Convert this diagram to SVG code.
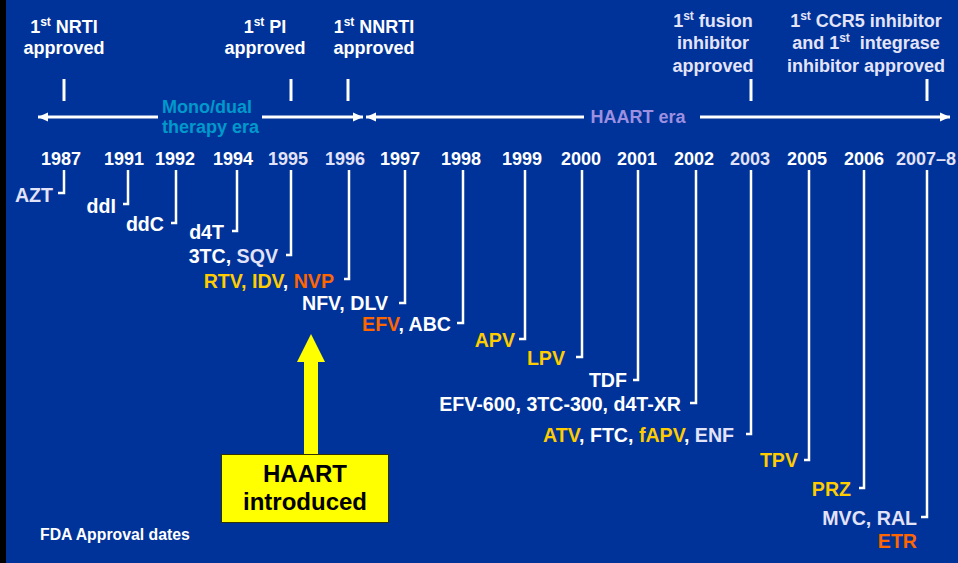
<svg xmlns="http://www.w3.org/2000/svg" width="958" height="563" viewBox="0 0 958 563">
  <defs>
    <style>
      text { font-family: "Liberation Sans", Arial, sans-serif; font-weight: bold; }
      .head { font-size: 18px; fill: #ffffff; text-anchor: middle; }
      .headl { font-size: 18px; fill: #e4e4f8; text-anchor: middle; }
      .sup { font-size: 12px; }
      .year { font-size: 18px; fill: #ffffff; text-anchor: middle; }
      .yearl { font-size: 18px; fill: #e2e2f8; text-anchor: middle; }
      .drug { font-size: 19.6px; fill: #ffffff; text-anchor: end; }
      .y { fill: #ffcc00; }
      .o { fill: #ff6600; }
      .l { fill: #e2e2f8; }
      .tick { stroke: #ffffff; stroke-width: 3; fill: none; }
      .hook { stroke: #ffffff; stroke-width: 2.5; fill: none; }
      .era { stroke: #ffffff; stroke-width: 3; fill: none; }
    </style>
    <marker id="head" viewBox="0 0 10 10" refX="10" refY="5" markerWidth="10" markerHeight="10" markerUnits="userSpaceOnUse" orient="auto-start-reverse">
      <path d="M0,0.5 L10,5 L0,9.5 z" fill="#ffffff"/>
    </marker>
  </defs>

  <!-- slide background -->
  <rect x="0" y="0" width="958" height="563" fill="#003399"/>
  <rect x="0" y="0" width="6" height="563" fill="#000000"/>

  <!-- milestone captions -->
  <g id="milestone-nrti">
    <text class="head" x="64" y="33">1<tspan class="sup" dy="-7">st</tspan><tspan dy="7"> NRTI</tspan></text>
    <text class="head" x="64" y="54">approved</text>
  </g>
  <g id="milestone-pi">
    <text class="head" x="265" y="33">1<tspan class="sup" dy="-7">st</tspan><tspan dy="7"> PI</tspan></text>
    <text class="head" x="265" y="54">approved</text>
  </g>
  <g id="milestone-nnrti">
    <text class="head" x="374" y="33">1<tspan class="sup" dy="-7">st</tspan><tspan dy="7"> NNRTI</tspan></text>
    <text class="head" x="374" y="54">approved</text>
  </g>
  <g id="milestone-fusion">
    <text class="headl" x="713" y="27">1<tspan class="sup" dy="-7">st</tspan><tspan dy="7"> fusion</tspan></text>
    <text class="headl" x="713" y="49">inhibitor</text>
    <text class="headl" x="713" y="72">approved</text>
  </g>
  <g id="milestone-ccr5-integrase">
    <text class="headl" x="866" y="27">1<tspan class="sup" dy="-7">st</tspan><tspan dy="7"> CCR5 inhibitor</tspan></text>
    <text class="headl" x="866" y="49">and 1<tspan class="sup" dy="-7">st</tspan><tspan dy="7" dx="10">integrase</tspan></text>
    <text class="headl" x="866" y="72">inhibitor approved</text>
  </g>

  <!-- era labels -->
  <g id="era-mono-dual">
    <text x="162" y="113" font-size="18" fill="#0099cc">Mono/dual</text>
    <text x="162" y="133" font-size="18" fill="#0099cc">therapy era</text>
  </g>
  <g id="era-haart">
    <text x="638" y="123" font-size="18" fill="#9d90e0" text-anchor="middle">HAART era</text>
  </g>

  <!-- year labels -->
  <g id="years">
    <text class="year" x="61" y="165">1987</text>
    <text class="year" x="124" y="165">1991</text>
    <text class="year" x="175" y="165">1992</text>
    <text class="year" x="233" y="165">1994</text>
    <text class="yearl" x="288" y="165">1995</text>
    <text class="yearl" x="345" y="165">1996</text>
    <text class="year" x="400" y="165">1997</text>
    <text class="year" x="461" y="165">1998</text>
    <text class="year" x="522" y="165">1999</text>
    <text class="year" x="581" y="165">2000</text>
    <text class="year" x="637" y="165">2001</text>
    <text class="year" x="694" y="165">2002</text>
    <text class="yearl" x="750" y="165">2003</text>
    <text class="year" x="807" y="165">2005</text>
    <text class="year" x="864" y="165">2006</text>
    <text class="yearl" x="926" y="165">2007–8</text>
  </g>

  <!-- drug approvals -->
  <g id="drug-1987"><text class="drug l" x="53" y="202">AZT</text></g>
  <g id="drug-1991"><text class="drug" x="116" y="213">ddI</text></g>
  <g id="drug-1992"><text class="drug" x="164" y="231">ddC</text></g>
  <g id="drug-1994"><text class="drug" x="224" y="239">d4T</text></g>
  <g id="drug-1995"><text class="drug" x="278" y="263">3TC, <tspan class="l">SQV</tspan></text></g>
  <g id="drug-1996"><text class="drug" x="334" y="288"><tspan class="y">RTV, IDV</tspan>, <tspan class="o">NVP</tspan></text></g>
  <g id="drug-1997"><text class="drug" x="388" y="310">NFV, DLV</text></g>
  <g id="drug-1998"><text class="drug" x="451" y="331"><tspan class="o">EFV</tspan>, ABC</text></g>
  <g id="drug-1999"><text class="drug y" x="515" y="347">APV</text></g>
  <g id="drug-2000"><text class="drug y" x="565" y="365">LPV</text></g>
  <g id="drug-2001"><text class="drug" x="627" y="387">TDF</text></g>
  <g id="drug-2002"><text class="drug" x="681" y="411">EFV-600, 3TC-300, d4T-XR</text></g>
  <g id="drug-2003"><text class="drug" x="734" y="442"><tspan class="y">ATV</tspan>, FTC, <tspan class="y">fAPV</tspan>, <tspan class="l">ENF</tspan></text></g>
  <g id="drug-2005"><text class="drug y" x="798" y="467">TPV</text></g>
  <g id="drug-2006"><text class="drug y" x="851" y="496">PRZ</text></g>
  <g id="drug-2007-8">
    <text class="drug l" x="917" y="525">MVC, RAL</text>
    <text class="drug o" x="917" y="548">ETR</text>
  </g>

  <!-- HAART introduced callout -->
  <g id="haart-introduced">
    <path d="M304,454 V362 H297 L311,334 L325,362 H318 V454 z" fill="#ffff00"/>
    <rect x="221.5" y="454.5" width="167" height="68" fill="#ffff00" stroke="#333300" stroke-width="1"/>
    <text x="305" y="482" font-size="24" fill="#000000" text-anchor="middle">HAART</text>
    <text x="305" y="510" font-size="24" fill="#000000" text-anchor="middle">introduced</text>
  </g>

  <g id="footnote">
    <text x="40" y="540" font-size="15.8" fill="#ffffff">FDA Approval dates</text>
  </g>

  <!-- connectors: era arrows, milestone ticks, year-to-drug brackets -->
  <g id="connectors">
    <path class="era" d="M38,117 H158" marker-start="url(#head)"/>
    <path class="era" d="M262,117 H363" marker-end="url(#head)"/>
    <path class="era" d="M366,117 H584" marker-start="url(#head)"/>
    <path class="era" d="M700,117 H950" marker-end="url(#head)"/>

    <path class="tick" d="M64,79 V101"/>
    <path class="tick" d="M291,79 V101"/>
    <path class="tick" d="M348,79 V101"/>
    <path class="tick" d="M751,79 V101"/>
    <path class="tick" d="M927,79 V101"/>

    <path class="hook" d="M64,170 V193 H58"/>
    <path class="hook" d="M128,170 V204 H123"/>
    <path class="hook" d="M176,170 V223 H171"/>
    <path class="hook" d="M237,170 V231 H232"/>
    <path class="hook" d="M291,170 V255 H286"/>
    <path class="hook" d="M349,170 V279 H344"/>
    <path class="hook" d="M405,170 V303 H399"/>
    <path class="hook" d="M463,170 V323 H457"/>
    <path class="hook" d="M525,170 V339 H519"/>
    <path class="hook" d="M582,170 V357 H576"/>
    <path class="hook" d="M638,170 V380 H633"/>
    <path class="hook" d="M696,170 V403 H690"/>
    <path class="hook" d="M751,170 V434 H746"/>
    <path class="hook" d="M809,170 V460 H804"/>
    <path class="hook" d="M864,170 V488 H859"/>
    <path class="hook" d="M927,170 V517 H921"/>
  </g>
</svg>
